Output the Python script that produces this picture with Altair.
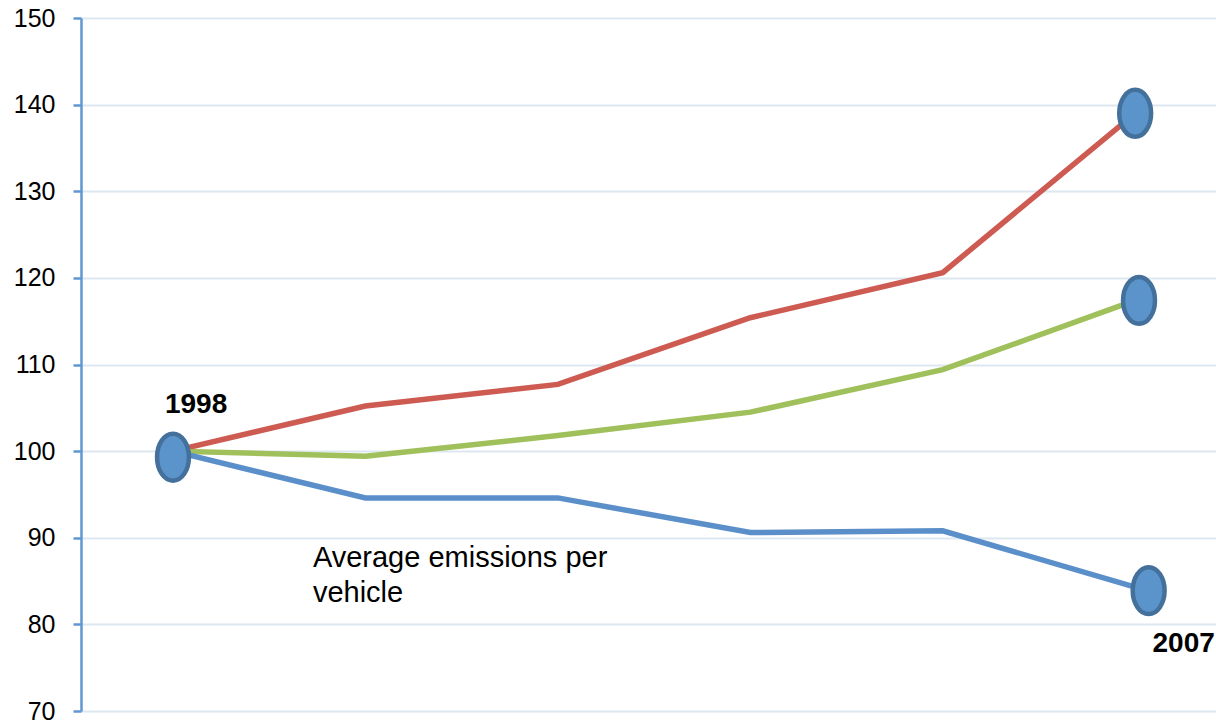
import altair as alt
import pandas as pd

# Index values (1998 = 100) at six sample points between 1998 and 2007
steps = [0, 1, 2, 3, 4, 5]
red_series = [100.0, 105.2, 107.7, 115.4, 120.6, 139.0]
green_series = [100.0, 99.4, 101.8, 104.5, 109.4, 117.4]
blue_series = [100.0, 94.6, 94.6, 90.6, 90.8, 84.3]

series_names = ["red", "green", "blue"]
series_colors = ["#cd5b52", "#9fc05a", "#5a8fca"]

rows = []
for name, vals in zip(series_names, [red_series, green_series, blue_series]):
    for s, v in zip(steps, vals):
        rows.append({"step": s, "value": v, "series": name})
df = pd.DataFrame(rows)

# Oval highlights at the start and the three end values
marker_steps = [0, 5, 5.02, 5.07]
marker_values = [99.3, 139.0, 117.4, 83.9]
markers = pd.DataFrame({"step": marker_steps, "value": marker_values})

# Year annotations
start_label = pd.DataFrame({"text": ["1998"], "step": [0.12], "value": [104.35]})
end_label = pd.DataFrame({"text": ["2007"], "step": [5.09], "value": [76.8]})
caption_pos = pd.DataFrame({"step": [0.727], "value": [86.6]})

x_scale = alt.Scale(domain=[-0.478, 5.42], nice=False, zero=False)
y_scale = alt.Scale(domain=[70, 150], nice=False, zero=False)

x_enc = alt.X("step:Q", scale=x_scale, axis=None)
y_axis = alt.Axis(
    values=[70, 80, 90, 100, 110, 120, 130, 140, 150],
    title=None,
    grid=True,
    gridColor="#dde7f2",
    gridWidth=2,
    domainColor="#5f97d0",
    domainWidth=2.5,
    tickColor="#5f97d0",
    tickWidth=2.5,
    tickSize=8,
    labelFont="Liberation Sans",
    labelFontSize=25,
    labelColor="#000000",
    labelPadding=18,
)

lines = alt.Chart(df).mark_line(strokeWidth=5.5, strokeCap="butt").encode(
    x=x_enc,
    y=alt.Y("value:Q", scale=y_scale, axis=y_axis),
    color=alt.Color("series:N", scale=alt.Scale(domain=series_names, range=series_colors), legend=None),
    detail="series:N",
)

ellipse = "M0,-1 A0.68,1 0 1,1 0,1 A0.68,1 0 1,1 0,-1 Z"
points = alt.Chart(markers).mark_point(
    shape=ellipse, size=2200, filled=True, fill="#5b94ca", fillOpacity=1,
    stroke="#44709c", strokeWidth=4.5, opacity=1,
).encode(
    x=x_enc,
    y=alt.Y("value:Q", scale=y_scale),
)

def year_text(data, align):
    return alt.Chart(data).mark_text(
        font="Liberation Sans", fontSize=28, fontWeight="bold", color="#000000",
        baseline="alphabetic", align=align,
    ).encode(
        x=x_enc,
        y=alt.Y("value:Q", scale=y_scale),
        text="text:N",
    )

caption = alt.Chart(caption_pos).mark_text(
    text=["Average emissions per", "vehicle"],
    font="Liberation Sans", fontSize=29, align="left", baseline="alphabetic",
    lineHeight=35, color="#000000",
).encode(
    x=x_enc,
    y=alt.Y("value:Q", scale=y_scale),
)

chart = alt.layer(
    lines, points, year_text(start_label, "center"), year_text(end_label, "left"), caption
).properties(
    width=1135,
    height=693,
    autosize=alt.AutoSizeParams(type="none"),
    padding={"left": 81, "top": 18, "right": 0, "bottom": 14},
).configure_view(stroke=None).configure(background="#ffffff")

chart.save("out.html", embed_options={"renderer": "svg", "actions": False})
